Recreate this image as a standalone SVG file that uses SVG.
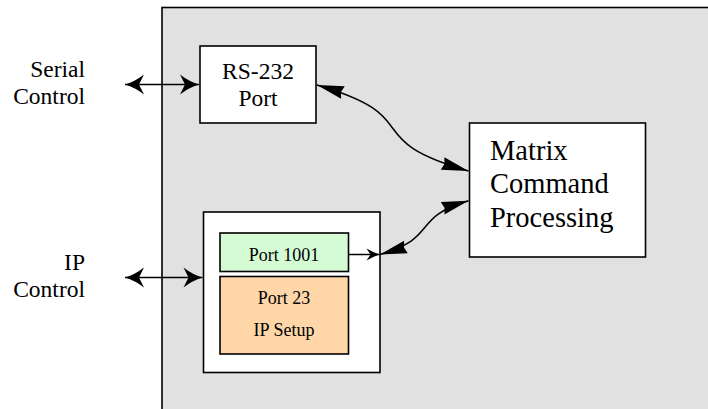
<svg xmlns="http://www.w3.org/2000/svg" width="708" height="409" viewBox="0 0 708 409">
<style>
.box{stroke:#000;stroke-width:1.6}
.lbl{font-family:"Liberation Serif","Times New Roman",serif;fill:#000}
.conn{fill:none;stroke:#000;stroke-width:1.5}
</style>
<defs>
<marker id="barb" markerUnits="userSpaceOnUse" markerWidth="24" markerHeight="24" viewBox="-22 -12 24 24" refX="0" refY="0" orient="auto-start-reverse">
<path d="M0,0 Q-10,-3 -19,-10 L-14,0 L-19,10 Q-10,3 0,0 Z" fill="#000"/>
</marker>
<marker id="barbS" markerUnits="userSpaceOnUse" markerWidth="16" markerHeight="16" viewBox="-15 -8 16 16" refX="0" refY="0" orient="auto">
<path d="M0,0 Q-6,-2 -13,-6 L-9,0 L-13,6 Q-6,2 0,0 Z" fill="#000"/>
</marker>
<marker id="tri" markerUnits="userSpaceOnUse" markerWidth="30" markerHeight="16" viewBox="-28 -8 30 16" refX="0" refY="0" orient="auto-start-reverse">
<path d="M0,0 L-27,-6.5 L-25,0 L-27,6.5 Z" fill="#000"/>
</marker>
</defs>

<g id="panel">
<rect x="162" y="7.5" width="600" height="500" fill="#e1e1e1" stroke="#000" stroke-width="1.6"/>
</g>

<g id="serial-label">
<text class="lbl" font-size="23.5" text-anchor="end" x="85" y="77">Serial</text>
<text class="lbl" font-size="23.5" text-anchor="end" x="85" y="104">Control</text>
</g>

<g id="ip-label">
<text class="lbl" font-size="23.5" text-anchor="end" x="85" y="270">IP</text>
<text class="lbl" font-size="23.5" text-anchor="end" x="85" y="297">Control</text>
</g>

<g id="rs232">
<rect class="box" x="200" y="46" width="116" height="77" fill="#fff"/>
<text class="lbl" font-size="23.5" text-anchor="middle" x="258" y="79">RS-232</text>
<text class="lbl" font-size="23.5" text-anchor="middle" x="258" y="106">Port</text>
</g>

<g id="mcp">
<rect class="box" x="469.5" y="123" width="176" height="134" fill="#fff"/>
<text class="lbl" font-size="28.5" x="490" y="160">Matrix</text>
<text class="lbl" font-size="28.5" x="490" y="193">Command</text>
<text class="lbl" font-size="28.5" x="490" y="226.5">Processing</text>
</g>

<g id="ip-block">
<rect class="box" x="203.5" y="212" width="176.5" height="160.5" fill="#fff"/>
</g>

<g id="port1001">
<rect class="box" x="220" y="233" width="128.5" height="38.5" fill="#d5fbd5"/>
<text class="lbl" font-size="18" text-anchor="middle" x="284" y="261">Port 1001</text>
</g>

<g id="port23">
<rect class="box" x="220" y="276.5" width="128.5" height="77.5" fill="#fed6a8"/>
<text class="lbl" font-size="18" text-anchor="middle" x="284" y="304">Port 23</text>
<text class="lbl" font-size="18" text-anchor="middle" x="284" y="336">IP Setup</text>
</g>

<g id="connectors">
<path class="conn" d="M125,84.5 L199,84.5" marker-start="url(#barb)" marker-end="url(#barb)"/>
<path class="conn" d="M125,277.5 L202.5,277.5" marker-start="url(#barb)" marker-end="url(#barb)"/>
<path class="conn" d="M348.5,254.5 L379.5,254.5" marker-end="url(#barbS)"/>
<path class="conn" d="M317,85 C430,118 355,138 468.5,171" marker-start="url(#tri)" marker-end="url(#tri)"/>
<path class="conn" d="M380,254.5 C440,237 410,218 468.5,200.7" marker-start="url(#tri)" marker-end="url(#tri)"/>
</g>
</svg>
